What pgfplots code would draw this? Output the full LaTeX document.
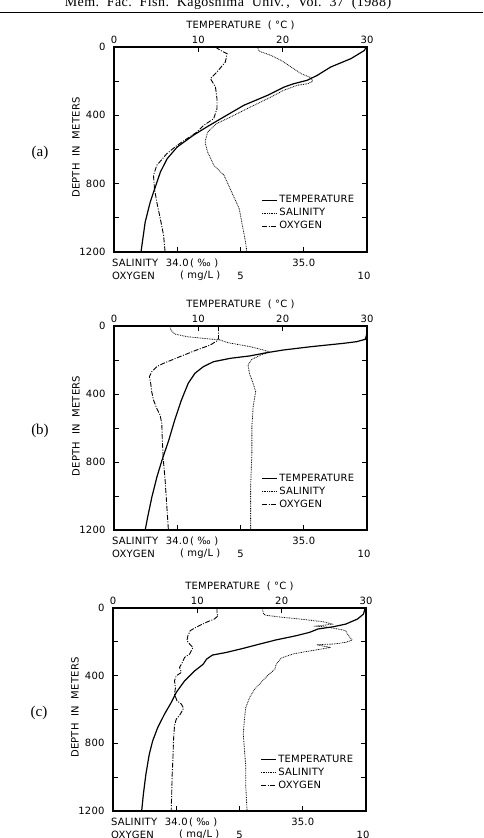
\documentclass[border=0pt]{standalone}
\usepackage{fontspec}
\setmainfont{DejaVu Sans}[LetterSpace=2]
\newfontfamily\serifhead{Liberation Serif}[LetterSpace=3]
\newfontfamily\seriflab{Liberation Serif}
\usepackage{pgfplots}
\pgfplotsset{compat=1.18}
\tikzset{lab/.style={inner sep=0pt, font=\fontsize{10}{12}\selectfont}}
\pgfplotsset{
  panel/.style={
    scale only axis, width=253pt, anchor=north west, clip mode=individual,
    xmin=0, xmax=30, ymin=0, ymax=1200, y dir=reverse,
    xtick={0,10,20,30}, xtick pos=right, xticklabel pos=right,
    extra x ticks={7.5,15,22.5}, extra x tick labels={},
    extra x tick style={xtick pos=left, xticklabel pos=left},
    ytick={0,400,800,1200}, minor ytick={200,600,1000}, ytick pos=both, yticklabel pos=left,
    tick align=inside, major tick length=5pt, minor tick length=5pt,
    axis line style={line width=1.1pt},
    every tick/.style={line width=0.9pt, black},
    tick label style={font=\fontsize{10}{12}\selectfont},
    yticklabel style={xshift=-5pt},
    /pgf/number format/assume math mode=true, /pgf/number format/1000 sep={},
    legend style={draw=none, fill=none, at={(0.57,0.295)}, anchor=north west,
      font=\fontsize{10}{12}\selectfont, row sep=0pt,
      nodes={inner sep=1.75pt, text height=7.5pt, text depth=2pt}},
    legend cell align=left,
    legend image code/.code={\draw[##1] (0pt,0pt) -- (12pt,0pt); \path (0pt,0pt) -- (15pt,0pt);},
  },
  tline/.style={black, line width=1.2pt},
  sline/.style={black, line width=0.8pt, dash pattern=on 0.8pt off 0.9pt},
  oline/.style={black, line width=0.9pt, dash pattern=on 5pt off 1.5pt on 1pt off 1.5pt},
}
\newcommand\panellabels[1]{%
  \node[lab] at ([yshift=22pt]axis description cs:0.5,1) {TEMPERATURE \ ( °C )};
  \node[lab, rotate=90] at ([shift={(-38pt,2pt)}]axis description cs:0,0.5) {DEPTH \ IN \ METERS};
  \node[lab, anchor=west] at ([shift={(-2pt,-11pt)}]axis description cs:0,0) {SALINITY};
  \node[lab] at ([yshift=-11pt]axis cs:7.5,1200) {34.0};
  \node[lab, anchor=west] at ([shift={(76pt,-11pt)}]axis description cs:0,0) {( ‰ )};
  \node[lab] at ([yshift=-11pt]axis cs:22.5,1200) {35.0};
  \node[lab, anchor=west] at ([shift={(-2pt,-24pt)}]axis description cs:0,0) {OXYGEN};
  \node[lab, anchor=west] at ([shift={(66pt,-24pt)}]axis description cs:0,0) {( mg/L )};
  \node[lab] at ([yshift=-24pt]axis cs:15,1200) {5};
  \node[lab] at ([shift={(-3pt,-24pt)}]axis cs:30,1200) {10};
  \node[inner sep=0pt, font=\seriflab\fontsize{15}{17}\selectfont] at ([shift={(-74pt,-3pt)}]axis description cs:0,0.5) {(#1)};
}
\begin{document}
\begin{tikzpicture}
\path[use as bounding box] (0,0) rectangle (483pt,-838pt);
\node[font=\serifhead\fontsize{14}{16}\selectfont, anchor=base, inner sep=0pt] at (228pt,-6pt) {Mem.\ \ Fac.\ \ Fish.\ \ Kagoshima \ Univ.\,, \ Vol.\ \ 37 \ (1988)};
\draw[line width=1pt] (0,-12.5pt) -- (483pt,-12.5pt);

% ---------------- (a)
\begin{axis}[panel, height=205pt, at={(114pt,-47pt)}]
\addplot[tline] table[x=T,y=d]{
d T
0 29.9
20 29.7
68 28.1
117 25.7
166 24.1
195 22.9
215 21.3
234 20.2
283 18.2
341 15.4
410 13.0
468 11.0
517 9.4
585 7.5
654 6.3
732 5.5
819 4.9
907 4.3
1024 3.7
1200 3.2
};
\addlegendentry{TEMPERATURE}
\addplot[sline] table[x expr=(\thisrow{S}-33.5)*15,y=d]{
d S
0 34.63
25 34.65
49 34.74
78 34.82
117 34.90
156 34.98
181 35.06
201 35.07
215 35.03
224 34.95
254 34.84
293 34.74
351 34.58
410 34.42
449 34.31
498 34.24
556 34.22
615 34.24
693 34.29
751 34.37
849 34.43
946 34.49
1063 34.52
1141 34.54
1200 34.55
};
\addlegendentry{SALINITY}
\addplot[oline] table[x expr=\thisrow{O}*3,y=d]{
d O
0 4.01
20 4.21
39 4.47
88 4.40
146 4.07
185 3.81
234 4.01
302 4.07
361 4.07
420 3.94
459 3.54
498 3.28
537 2.88
576 2.49
624 2.09
693 1.69
751 1.56
829 1.60
907 1.69
1005 1.83
1102 1.96
1200 2.02
};
\addlegendentry{OXYGEN}
\panellabels{a}
\end{axis}

% ---------------- (b)
\begin{axis}[panel, height=204pt, at={(114pt,-326pt)}]
\addplot[tline] table[x=T,y=d]{
d T
0 30.0
43 30.0
78 29.8
92 28.8
102 27.2
122 23.3
141 20.1
157 18.1
176 16.1
190 13.8
210 11.8
239 10.6
278 9.6
337 8.8
435 8.0
553 7.2
671 6.5
788 5.7
886 5.1
1004 4.5
1122 4.0
1200 3.7
};
\addlegendentry{TEMPERATURE}
\addplot[sline] table[x expr=(\thisrow{S}-33.5)*15,y=d]{
d S
0 33.94
24 33.95
47 33.98
63 34.08
73 34.21
82 34.34
98 34.40
122 34.58
141 34.68
153 34.73
171 34.66
196 34.59
229 34.56
278 34.57
337 34.60
386 34.62
475 34.60
592 34.59
749 34.59
945 34.58
1200 34.58
};
\addlegendentry{SALINITY}
\addplot[oline] table[x expr=\thisrow{O}*3,y=d]{
d O
0 4.13
73 4.13
86 4.09
112 3.80
141 3.27
180 2.61
220 1.95
239 1.69
269 1.49
298 1.40
337 1.45
386 1.49
435 1.56
484 1.69
524 1.82
573 1.89
671 1.91
788 1.95
906 2.02
1043 2.08
1200 2.15
};
\addlegendentry{OXYGEN}
\panellabels{b}
\end{axis}

% ---------------- (c)
\begin{axis}[panel, height=203pt, at={(113pt,-608pt)}]
\addplot[tline] table[x=T,y=d]{
d T
0 29.9
36 29.7
65 29.0
95 27.6
111 26.1
124 24.3
144 23.3
164 21.7
189 19.3
213 17.4
239 15.4
263 13.4
278 11.8
302 11.1
332 10.7
371 9.7
430 8.5
499 7.5
559 6.9
628 6.1
707 5.3
786 4.7
865 4.3
983 3.9
1101 3.6
1200 3.4
};
\addlegendentry{TEMPERATURE}
\addplot[sline] table[x expr=(\thisrow{S}-33.5)*15,y=d]{
d S
0 34.68
36 34.69
43 34.71
55 34.84
67 35.00
81 35.16
95 35.23
103 35.16
107 35.11
114 35.20
126 35.29
134 35.34
150 35.35
170 35.37
190 35.39
203 35.34
213 35.24
217 35.11
233 35.22
245 35.13
257 35.03
272 34.92
296 34.83
332 34.79
361 34.78
401 34.72
440 34.67
480 34.62
529 34.58
588 34.55
647 34.54
746 34.53
845 34.54
944 34.55
1062 34.55
1200 34.56
};
\addlegendentry{SALINITY}
\addplot[oline] table[x expr=\thisrow{O}*3,y=d]{
d O
0 4.11
36 4.11
45 4.16
65 4.01
85 3.68
111 3.32
134 3.05
164 2.96
193 2.92
213 3.03
233 3.16
272 3.03
292 2.83
322 2.74
351 2.63
381 2.70
401 2.50
430 2.43
470 2.47
509 2.43
549 2.53
568 2.70
592 2.79
628 2.66
657 2.50
697 2.43
786 2.39
884 2.37
983 2.34
1101 2.32
1200 2.30
};
\addlegendentry{OXYGEN}
\panellabels{c}
\end{axis}
\end{tikzpicture}
\end{document}
